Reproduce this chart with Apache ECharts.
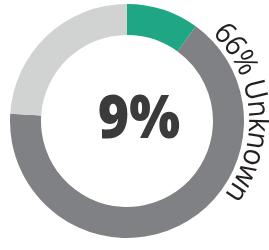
<!DOCTYPE html>
<html>
<head>
<meta charset="utf-8">
<script src="https://cdn.jsdelivr.net/npm/echarts@6/dist/echarts.min.js"></script>
<style>
html,body{margin:0;padding:0;background:#fff;}
#chart{width:269px;height:250px;}
</style>
</head>
<body>
<div id="chart"></div>
<script>
// Data
const categories = ['Known', 'Unknown', 'Other'];
const values = [10, 66, 24];
const colors = ['#1ea685', '#808184', '#d1d3d3'];
const centerLabel = '9%';
const arcLabel = '66% Unknown';

// Layout
const CX = 127, CY = 121, R_IN = 86, R_OUT = 117;

const chart = echarts.init(document.getElementById('chart'), null, {renderer: 'canvas'});

// Build curved label: characters along the arc just outside the "Unknown" slice
const total = values.reduce((a, b) => a + b, 0);
const unknownStartDeg = values[0] / total * 360;
const arcFont = '500 28px "Open Sans"';
const ctx = document.createElement('canvas').getContext('2d');
ctx.font = arcFont;
const R_TXT = 130.5;
let cum = 0;
const startRad = (unknownStartDeg + 8.5) * Math.PI / 180;
const arcElems = [];
for (const ch of arcLabel) {
  const w = ctx.measureText(ch).width;
  const th = startRad + (cum + w / 2) / R_TXT;
  cum += w;
  arcElems.push({
    type: 'text',
    x: CX + R_TXT * Math.sin(th),
    y: CY - R_TXT * Math.cos(th),
    rotation: -th,
    scaleY: 1.06,
    silent: true,
    style: {
      text: ch,
      font: arcFont,
      fill: '#231f20',
      align: 'center',
      verticalAlign: 'middle'
    }
  });
}

const option = {
  animation: false,
  backgroundColor: '#ffffff',
  series: [{
    type: 'pie',
    center: [CX, CY],
    radius: [R_IN, R_OUT],
    startAngle: 90,
    clockwise: true,
    silent: true,
    label: {show: false},
    labelLine: {show: false},
    itemStyle: {borderWidth: 0},
    data: categories.map((c, i) => ({name: c, value: values[i], itemStyle: {color: colors[i]}}))
  }],
  graphic: [
    {
      type: 'text',
      x: 139,
      y: 121,
      scaleX: 0.88,
      silent: true,
      style: {
        text: centerLabel,
        font: '800 61px "Open Sans"',
        fill: '#3b3b3b',
        align: 'center',
        verticalAlign: 'middle'
      }
    }
  ].concat(arcElems)
};
chart.setOption(option);
</script>
</body>
</html>
